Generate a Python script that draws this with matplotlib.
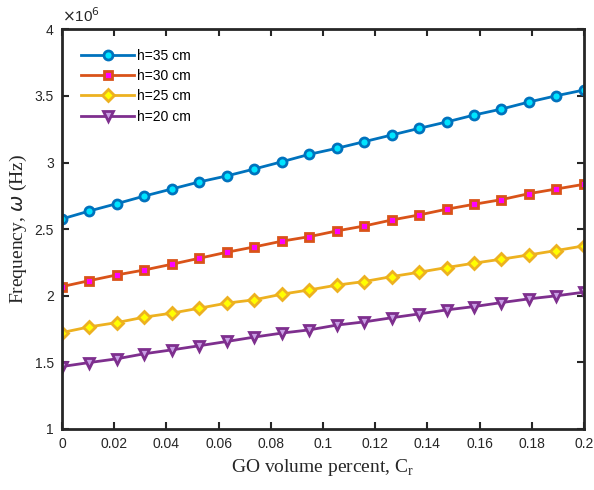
import numpy as np
import matplotlib
matplotlib.use("Agg")
import matplotlib.pyplot as plt

# GO volume percent, 20 points from 0 to 0.2
cr = np.linspace(0, 0.2, 20)

# frequencies in units of 1e6 Hz
f_h35 = [2.577, 2.637, 2.692, 2.749, 2.802, 2.855, 2.900, 2.952, 3.006, 3.062,
         3.107, 3.157, 3.207, 3.257, 3.305, 3.357, 3.402, 3.455, 3.502, 3.545]
f_h30 = [2.069, 2.114, 2.157, 2.194, 2.237, 2.282, 2.327, 2.367, 2.410, 2.444,
         2.487, 2.524, 2.569, 2.607, 2.650, 2.687, 2.722, 2.767, 2.802, 2.837]
f_h25 = [1.724, 1.767, 1.799, 1.840, 1.870, 1.907, 1.945, 1.970, 2.012, 2.044,
         2.080, 2.107, 2.144, 2.177, 2.212, 2.245, 2.275, 2.307, 2.340, 2.375]
f_h20 = [1.469, 1.499, 1.527, 1.565, 1.594, 1.625, 1.657, 1.690, 1.720, 1.744,
         1.780, 1.804, 1.835, 1.864, 1.894, 1.919, 1.949, 1.977, 2.000, 2.027]
labels = ['h=35 cm', 'h=30 cm', 'h=25 cm', 'h=20 cm']

xticks = [0, 0.02, 0.04, 0.06, 0.08, 0.1, 0.12, 0.14, 0.16, 0.18, 0.2]
xticklabels = ['0', '0.02', '0.04', '0.06', '0.08', '0.1', '0.12', '0.14', '0.16', '0.18', '0.2']
yticks = [1, 1.5, 2, 2.5, 3, 3.5, 4]
yticklabels = ['1', '1.5', '2', '2.5', '3', '3.5', '4']

plt.rcParams['font.family'] = ['Liberation Sans', 'DejaVu Sans']

fig = plt.figure(figsize=(5.94, 4.90), dpi=100)
ax = fig.add_axes([0.1044, 0.1245, 0.8786, 0.8155])

styles = [
    dict(color='#0072BD', marker='o', mfc='#00E5FF', mec='#0072BD'),
    dict(color='#D95319', marker='s', mfc='#FF00FF', mec='#D95319'),
    dict(color='#EDB120', marker='D', mfc='#FFFF00', mec='#EDB120'),
    dict(color='#7E2F8E', marker='v', mfc='#C9A0E6', mec='#7E2F8E'),
]
sizes = [6.5, 6, 6, 7.5]
for y, lab, st, ms in zip([f_h35, f_h30, f_h25, f_h20], labels, styles, sizes):
    ax.plot(cr, y, lw=2.0, ms=ms, mew=2.0, label=lab, **st)

ax.set_xlim(0, 0.2)
ax.set_ylim(1, 4)
ax.set_xticks(xticks)
ax.set_xticklabels(xticklabels)
ax.set_yticks(yticks)
ax.set_yticklabels(yticklabels)
ax.tick_params(direction='in', length=5, width=1.5, top=True, right=True,
               labelsize=10, colors='#262626', pad=6)
for sp in ax.spines.values():
    sp.set_linewidth(2)
    sp.set_color('#262626')

ax.set_xlabel('GO volume percent, C$_\\mathregular{r}$', family='Liberation Serif',
              fontsize=14, color='#262626')
ax.set_ylabel('Frequency, $\\omega$ (Hz)', family='Liberation Serif',
              fontsize=14, color='#262626')
ax.text(0, 1.012, '$\\times$10$^6$', transform=ax.transAxes, fontsize=11,
        color='#262626', ha='left', va='bottom')

ax.legend(loc='upper left', frameon=False, fontsize=10, handlelength=3.8,
          labelspacing=0.45, borderaxespad=0.8, handletextpad=0.2,
          borderpad=0.6)

fig.savefig('out.png', dpi=100)
